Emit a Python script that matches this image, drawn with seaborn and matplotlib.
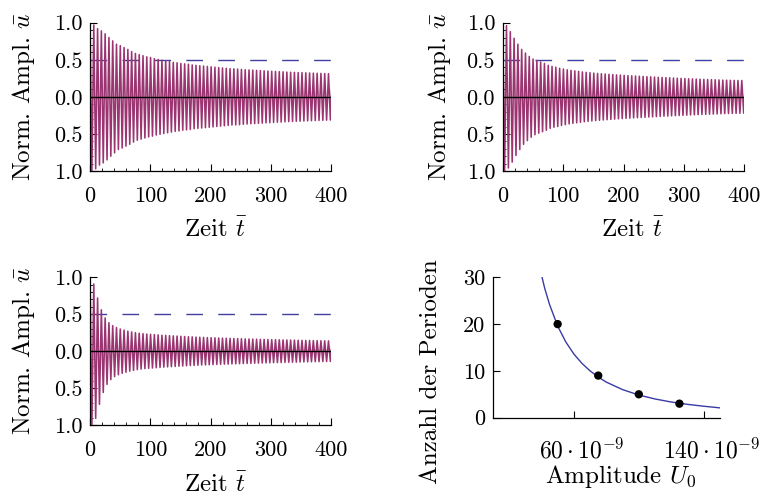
import numpy as np
import pandas as pd
import matplotlib
matplotlib.use("Agg")
import matplotlib.pyplot as plt
import matplotlib.transforms as mtransforms
from matplotlib.ticker import MultipleLocator
import seaborn as sns

# ---------------- data ----------------
# peak amplitude of each oscillation cycle
amp_top_left = [1.0, 0.97, 0.92, 0.89, 0.85, 0.80, 0.755, 0.71, 0.69, 0.665, 0.64, 0.61, 0.585,
                0.57, 0.555, 0.54, 0.53, 0.515, 0.505, 0.495, 0.485, 0.475, 0.465, 0.46, 0.45,
                0.445, 0.44, 0.43, 0.425, 0.42, 0.415, 0.41, 0.405, 0.40, 0.395, 0.39, 0.385,
                0.38, 0.378, 0.375, 0.37, 0.366, 0.363, 0.36, 0.357, 0.354, 0.351, 0.348, 0.345,
                0.342, 0.34, 0.337, 0.334, 0.332, 0.33, 0.328, 0.326, 0.324, 0.322, 0.32, 0.318,
                0.316, 0.314, 0.312, 0.31]
amp_top_right = [1.0, 0.96, 0.88, 0.79, 0.71, 0.64, 0.59, 0.545, 0.51, 0.49, 0.47, 0.45, 0.425,
                 0.41, 0.40, 0.385, 0.375, 0.365, 0.357, 0.35, 0.343, 0.336, 0.33, 0.325, 0.32,
                 0.316, 0.312, 0.308, 0.304, 0.30, 0.296, 0.293, 0.29, 0.287, 0.284, 0.281, 0.278,
                 0.275, 0.272, 0.27, 0.267, 0.264, 0.261, 0.259, 0.256, 0.254, 0.251, 0.249, 0.247,
                 0.244, 0.242, 0.24, 0.238, 0.236, 0.234, 0.232, 0.23, 0.228, 0.226, 0.225, 0.223,
                 0.222, 0.221, 0.22, 0.219]
amp_bottom_left = [1.0, 0.91, 0.72, 0.56, 0.45, 0.385, 0.345, 0.32, 0.30, 0.285, 0.27, 0.26, 0.25,
                   0.243, 0.237, 0.232, 0.228, 0.224, 0.22, 0.216, 0.213, 0.21, 0.207, 0.204, 0.201,
                   0.198, 0.195, 0.193, 0.19, 0.188, 0.186, 0.184, 0.182, 0.18, 0.178, 0.176, 0.175,
                   0.173, 0.171, 0.17, 0.168, 0.166, 0.165, 0.163, 0.162, 0.16, 0.159, 0.158, 0.156,
                   0.155, 0.154, 0.152, 0.151, 0.15, 0.149, 0.147, 0.146, 0.145, 0.144, 0.143, 0.142,
                   0.141, 0.14, 0.139, 0.138]
threshold = 0.5
time_ticks = [0, 100, 200, 300, 400]
time_tick_labels = ["0", "100", "200", "300", "400"]
ampl_ticks = [-1.0, -0.5, 0.0, 0.5, 1.0]
ampl_tick_labels = ["1.0", "0.5", "0.0", "0.5", "1.0"]

U0_points = [50e-9, 75e-9, 100e-9, 125e-9]
periods_points = [20, 9, 5, 3]
U0_fit = [40.4e-9, 42e-9, 45e-9, 50e-9, 55e-9, 60e-9, 65e-9, 70e-9, 75e-9, 80e-9, 90e-9,
          100e-9, 110e-9, 120e-9, 130e-9, 140e-9, 150e-9]
periods_fit = [30, 27.7, 24.2, 19.6, 16.2, 13.6, 11.6, 10.0, 8.7, 7.6, 6.0, 4.85, 4.0, 3.35,
               2.85, 2.45, 2.1]
U0_ticks = [60e-9, 140e-9]
U0_tick_labels = [r"$60\cdot10^{-9}$", r"$140\cdot10^{-9}$"]
period_ticks = [0, 10, 20, 30]
period_tick_labels = ["0", "10", "20", "30"]

# ---------------- style ----------------
sns.set_theme(style="ticks")
plt.rcParams["font.family"] = ["cmr10", "DejaVu Serif"]
plt.rcParams["mathtext.fontset"] = "cm"
plt.rcParams["axes.unicode_minus"] = False
plt.rcParams["axes.linewidth"] = 0.9
plt.rcParams["axes.edgecolor"] = "black"
plt.rcParams["xtick.color"] = "black"
plt.rcParams["ytick.color"] = "black"
plt.rcParams["text.color"] = "black"
plt.rcParams["axes.labelcolor"] = "black"

OSC_COLOR = "#9a3571"
DASH_COLOR = "#40409e"
FIT_COLOR = "#3a3aa6"
TICK_FS = 16
LABEL_FS = 18

W, H = 763, 496
fig = plt.figure(figsize=(W / 100, H / 100), dpi=100)


def px_axes(x0, x1, ytop, ybot):
    return fig.add_axes([x0 / W, 1 - ybot / H, (x1 - x0) / W, (ybot - ytop) / H])


def style_ticks(ax, xpad, ypad):
    ax.tick_params(which="major", direction="in", length=5, width=0.8,
                   top=False, right=False, labelsize=TICK_FS)
    ax.tick_params(which="minor", direction="in", length=2.5, width=0.6,
                   top=False, right=False)
    ax.tick_params(axis="x", pad=xpad)
    ax.tick_params(axis="y", pad=ypad)
    sns.despine(ax=ax)


def osc_panel(ax, amps, xlab_pos, ylab_x):
    a = np.asarray(amps, dtype=float)
    ext = np.empty(2 * len(a))
    ext[0::2] = a
    ext[1::2] = -a
    t = np.arange(len(ext)) * np.pi
    df = pd.DataFrame({"t": t, "u": ext})
    ax.axhline(threshold, color=DASH_COLOR, lw=1.0, dashes=(12, 11), zorder=1)
    sns.lineplot(data=df, x="t", y="u", ax=ax, color=OSC_COLOR, lw=1.15,
                 estimator=None, sort=False, zorder=2)
    ax.axhline(0, color="black", lw=1.0, zorder=3)
    ax.set_xlim(0, 400)
    ax.set_ylim(-1, 1)
    ax.set_xticks(time_ticks, time_tick_labels)
    ax.set_yticks(ampl_ticks, ampl_tick_labels)
    ax.xaxis.set_minor_locator(MultipleLocator(20))
    ax.yaxis.set_minor_locator(MultipleLocator(0.1))
    style_ticks(ax, xpad=11, ypad=5.5)
    ax.set_xlabel(r"Zeit $\bar{t}$", fontsize=LABEL_FS)
    ax.set_ylabel(r"Norm. Ampl. $\bar{u}$", fontsize=LABEL_FS)
    ax.xaxis.set_label_coords(*xlab_pos)
    ax.xaxis.label.set_va("baseline")
    ax.yaxis.set_label_coords(ylab_x, 0.5)
    ax.yaxis.label.set_va("center")


ax1 = px_axes(90, 331, 22.7, 171)
osc_panel(ax1, amp_top_left, (0.523, -0.435), -0.275)

ax2 = px_axes(502.7, 744.3, 22.7, 171)
osc_panel(ax2, amp_top_right, (0.537, -0.44), -0.263)

ax3 = px_axes(90, 331, 277.3, 425)
osc_panel(ax3, amp_bottom_left, (0.523, -0.445), -0.275)

# ---------------- periods vs amplitude ----------------
ax4 = px_axes(492.7, 720, 277.3, 417.7)
fit_df = pd.DataFrame({"U0": U0_fit, "N": periods_fit})
pts_df = pd.DataFrame({"U0": U0_points, "N": periods_points})
sns.lineplot(data=fit_df, x="U0", y="N", ax=ax4, color=FIT_COLOR, lw=1.0,
             estimator=None, sort=False, zorder=2)
sns.scatterplot(data=pts_df, x="U0", y="N", ax=ax4, color="black", s=36,
                edgecolor="none", zorder=3)
ax4.set_xlim(10e-9, 150e-9)
ax4.set_ylim(0, 30)
ax4.set_xticks(U0_ticks, U0_tick_labels)
ax4.set_yticks(period_ticks, period_tick_labels)
style_ticks(ax4, xpad=15, ypad=5.5)
ax4.tick_params(axis="x", labelsize=17)
ax4.set_xlabel(r"Amplitude $U_0$", fontsize=LABEL_FS)
ax4.set_ylabel("Anzahl der Perioden", fontsize=LABEL_FS)
ax4.xaxis.set_label_coords(0.564, -0.467)
ax4.xaxis.label.set_va("baseline")
ax4.yaxis.set_label_coords(-0.271, 0.325)
ax4.yaxis.label.set_va("center")
shift = mtransforms.ScaledTranslation(8 / 100, 0, fig.dpi_scale_trans)
for lab in ax4.get_xticklabels():
    lab.set_transform(lab.get_transform() + shift)

fig.savefig("out.png", dpi=100)
